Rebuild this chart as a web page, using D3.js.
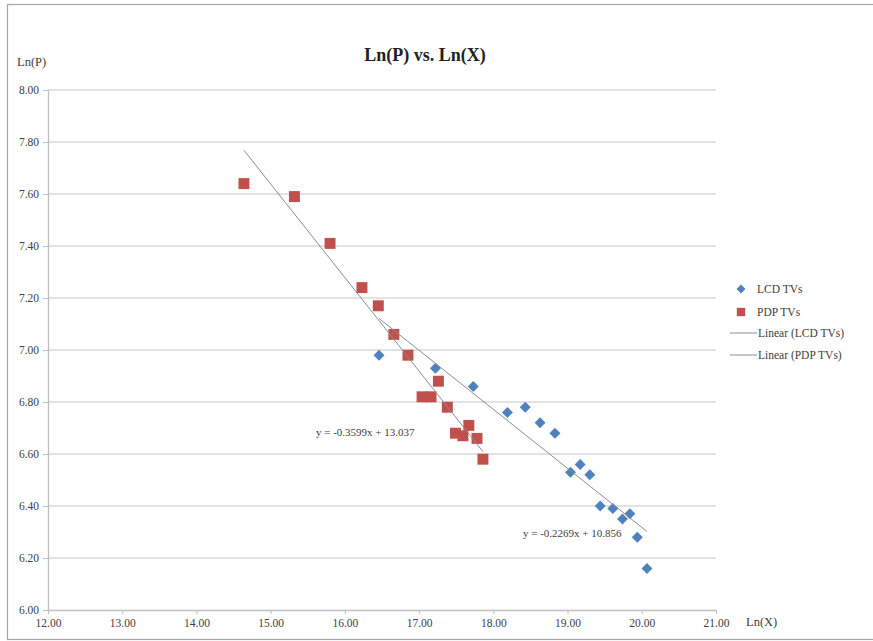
<!DOCTYPE html>
<html>
<head>
<meta charset="utf-8">
<script src="https://cdn.jsdelivr.net/npm/d3@7"></script>
<style>
  html, body { margin: 0; padding: 0; background: #fff; }
  svg text { font-family: "Liberation Serif", "DejaVu Serif", serif; }
</style>
</head>
<body>
<svg id="chart" width="873" height="641"></svg>
<script>
// ---- Data ----
const lcdX = [16.46, 17.22, 17.73, 18.19, 18.43, 18.63, 18.83, 19.04, 19.17, 19.30, 19.44, 19.61, 19.74, 19.84, 19.94, 20.07];
const lcdY = [6.98, 6.93, 6.86, 6.76, 6.78, 6.72, 6.68, 6.53, 6.56, 6.52, 6.40, 6.39, 6.35, 6.37, 6.28, 6.16];
const pdpX = [14.64, 15.32, 15.80, 16.23, 16.45, 16.66, 16.85, 17.26, 17.04, 17.16, 17.38, 17.49, 17.59, 17.67, 17.78, 17.86];
const pdpY = [7.64, 7.59, 7.41, 7.24, 7.17, 7.06, 6.98, 6.88, 6.82, 6.82, 6.78, 6.68, 6.67, 6.71, 6.66, 6.58];
const lcdFit = { slope: -0.2269, intercept: 10.856, label: "y = -0.2269x + 10.856" };
const pdpFit = { slope: -0.3599, intercept: 13.037, label: "y = -0.3599x + 13.037" };
const xTicks = [12, 13, 14, 15, 16, 17, 18, 19, 20, 21];
const yTicks = [6.0, 6.2, 6.4, 6.6, 6.8, 7.0, 7.2, 7.4, 7.6, 7.8, 8.0];
const legendLabels = ["LCD TVs", "PDP TVs", "Linear (LCD TVs)", "Linear (PDP TVs)"];
const titleText = "Ln(P) vs. Ln(X)";

(function () {
// ---- Layout ----
const svg = d3.select("#chart");
const pLeft = 48, pRight = 716, pTop = 90, pBottom = 610;
const x = d3.scaleLinear().domain([12, 21]).range([pLeft, pRight]);
const y = d3.scaleLinear().domain([6, 8]).range([pBottom, pTop]);
const blue = "#4f81bd", red = "#c0504d", trend = "#8c8c8c", grid = "#d9d9d9", axisC = "#bfbfbf", textC = "#404040";

// outer border (right edge lies outside the picture)
svg.append("rect").attr("x", 7.5).attr("y", 4.5).attr("width", 880).attr("height", 635)
  .attr("fill", "none").attr("stroke", "#a6a6a6").attr("stroke-width", 1.2);

// title
svg.append("text").attr("x", 425).attr("y", 61).attr("text-anchor", "middle")
  .attr("font-size", 18).attr("font-weight", "bold").attr("fill", "#222").text(titleText);

// gridlines
svg.append("g").selectAll("line").data(yTicks.filter(d => d > 6)).join("line")
  .attr("x1", pLeft).attr("x2", pRight).attr("y1", d => y(d)).attr("y2", d => y(d))
  .attr("stroke", grid).attr("stroke-width", 1.3);

// axes
const xAxis = d3.axisBottom(x).tickValues(xTicks).tickFormat(d3.format(".2f")).tickSize(4).tickSizeOuter(0);
const gx = svg.append("g").attr("transform", `translate(0,${pBottom})`).call(xAxis);
gx.select(".domain").attr("stroke", axisC).attr("stroke-width", 1.3);
gx.selectAll(".tick line").attr("stroke", axisC);
gx.selectAll(".tick text").attr("font-family", "Liberation Serif, serif").attr("font-size", 11.5).attr("fill", textC).attr("dy", "0.9em");

const yAxis = d3.axisLeft(y).tickValues(yTicks).tickFormat(d3.format(".2f")).tickSize(5).tickSizeOuter(0);
const gy = svg.append("g").attr("transform", `translate(${pLeft},0)`).call(yAxis);
gy.select(".domain").attr("stroke", axisC).attr("stroke-width", 1.3);
gy.selectAll(".tick line").attr("stroke", axisC);
gy.selectAll(".tick text").attr("font-family", "Liberation Serif, serif").attr("font-size", 11.5).attr("fill", textC).attr("x", -9);

// axis titles
svg.append("text").attr("x", 17).attr("y", 66).attr("font-size", 12.5).attr("fill", textC).text("Ln(P)");
svg.append("text").attr("x", 746).attr("y", 626).attr("font-size", 12.5).attr("fill", textC).text("Ln(X)");

// trendlines
function drawFit(xs, fit) {
  const x0 = d3.min(xs), x1 = d3.max(xs);
  svg.append("line")
    .attr("x1", x(x0)).attr("y1", y(fit.slope * x0 + fit.intercept))
    .attr("x2", x(x1)).attr("y2", y(fit.slope * x1 + fit.intercept))
    .attr("stroke", trend).attr("stroke-width", 1);
}

// markers
const diamond = d3.symbol().type(d3.symbolSquare).size(60);
const square = d3.symbol().type(d3.symbolSquare).size(120);

svg.append("g").selectAll("path").data(pdpX.map((d, i) => [d, pdpY[i]])).join("path")
  .attr("d", square).attr("fill", red)
  .attr("transform", d => `translate(${x(d[0])},${y(d[1])})`);
svg.append("g").selectAll("path").data(lcdX.map((d, i) => [d, lcdY[i]])).join("path")
  .attr("d", diamond).attr("fill", blue)
  .attr("transform", d => `translate(${x(d[0])},${y(d[1])}) rotate(45)`);

drawFit(lcdX, lcdFit);
drawFit(pdpX, pdpFit);

// equation labels
svg.append("text").attr("x", 316).attr("y", 436).attr("font-size", 11).attr("fill", textC).text(pdpFit.label);
svg.append("text").attr("x", 523).attr("y", 537).attr("font-size", 11).attr("fill", textC).text(lcdFit.label);

// legend
const lg = svg.append("g");
lg.append("path").attr("d", d3.symbol().type(d3.symbolSquare).size(40)).attr("fill", blue)
  .attr("transform", "translate(741,289) rotate(45)");
lg.append("path").attr("d", d3.symbol().type(d3.symbolSquare).size(70)).attr("fill", red)
  .attr("transform", "translate(741,312)");
lg.append("line").attr("x1", 730).attr("x2", 757).attr("y1", 333).attr("y2", 333).attr("stroke", trend);
lg.append("line").attr("x1", 730).attr("x2", 757).attr("y1", 355).attr("y2", 355).attr("stroke", trend);
const lx = [757, 757, 758, 758], ly = [293, 316, 337, 359];
legendLabels.forEach((t, i) => {
  lg.append("text").attr("x", lx[i]).attr("y", ly[i]).attr("font-size", 11.5).attr("fill", textC).text(t);
});
})();
</script>
</body>
</html>
